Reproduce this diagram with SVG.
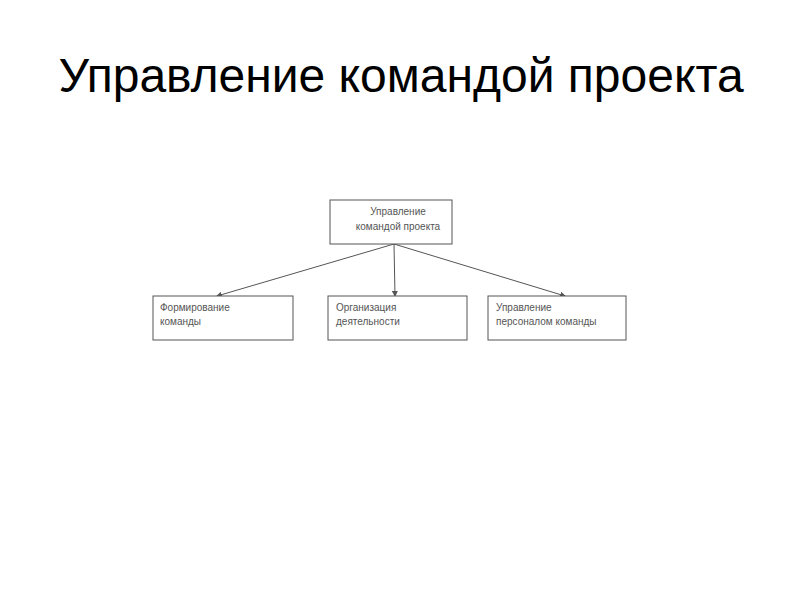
<svg xmlns="http://www.w3.org/2000/svg" width="800" height="600" viewBox="0 0 800 600">
<defs><marker id="a" markerWidth="6" markerHeight="6" refX="5" refY="3" orient="auto"><path d="M0,0L6,3L0,6z" fill="#555"/></marker>
<style>.b{fill:#fff;stroke:#555;stroke-width:1}.t{font-family:"Liberation Sans",Arial,sans-serif;font-size:10px;fill:#555}.c{stroke:#555;stroke-width:1;fill:none;marker-end:url(#a)}</style></defs>
<rect width="800" height="600" fill="#fff"/>
<text x="401" y="92" text-anchor="middle" font-family="Liberation Sans,Arial,sans-serif" font-size="48" fill="#000">Управление командой проекта</text>
<g id="connectors"><path class="c" d="M394,244L217,296"/><path class="c" d="M394,244L395,296"/><path class="c" d="M394,244L565,296"/></g>
<g id="n0"><rect class="b" x="330" y="200" width="122" height="44"/><text class="t" x="398" y="215" text-anchor="middle">Управление</text><text class="t" x="398" y="230" text-anchor="middle">командой проекта</text></g>
<g id="n1"><rect class="b" x="153" y="296" width="140" height="44"/><text class="t" x="160" y="311">Формирование</text><text class="t" x="160" y="325">команды</text></g>
<g id="n2"><rect class="b" x="328" y="296" width="139" height="44"/><text class="t" x="336" y="311">Организация</text><text class="t" x="336" y="325">деятельности</text></g>
<g id="n3"><rect class="b" x="488" y="296" width="138" height="44"/><text class="t" x="496" y="311">Управление</text><text class="t" x="496" y="325">персоналом команды</text></g>
</svg>
